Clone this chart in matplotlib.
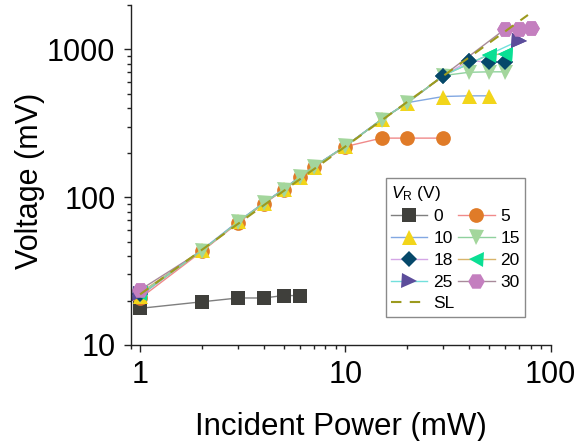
import matplotlib
matplotlib.use("Agg")
import matplotlib.pyplot as plt

plt.rcParams['font.family'] = ['Liberation Sans', 'DejaVu Sans']
plt.rcParams['mathtext.fontset'] = 'custom'
plt.rcParams['mathtext.rm'] = 'Liberation Sans'
plt.rcParams['mathtext.it'] = 'Liberation Sans:italic'

# ---- data ----
x_0 = [1, 2, 3, 4, 5, 6]
y_0 = [17.7, 19.6, 20.8, 20.8, 21.6, 21.6]

x_5 = [1, 2, 3, 4, 5, 6, 7, 10, 15, 20, 30]
y_5 = [20.7, 43, 67, 90, 112, 136, 159, 220, 251, 251, 251]

x_10 = [1, 2, 3, 4, 5, 6, 7, 10, 15, 20, 30, 40, 50]
y_10 = [21.5, 44, 68.5, 91.5, 113.5, 137.5, 161, 222, 336, 436, 480, 485, 485]

x_15 = [1, 2, 3, 4, 5, 6, 7, 10, 15, 20, 30, 40, 50, 60]
y_15 = [21.8, 43.5, 67.8, 91, 112.5, 137, 160, 221, 335, 435, 665, 700, 705, 705]

x_18 = [1, 2, 3, 4, 5, 6, 7, 10, 15, 20, 30, 40, 50, 60]
y_18 = [22.3, 43.5, 67.8, 91, 112.5, 137, 160, 221, 335, 435, 660, 840, 820, 820]

x_20 = [1, 2, 3, 4, 5, 6, 7, 10, 15, 20, 30, 50, 60]
y_20 = [22.5, 43.5, 67.8, 91, 112.5, 137, 160, 221, 335, 435, 665, 920, 930]

x_25 = [1, 2, 3, 4, 5, 6, 7, 10, 15, 20, 30, 70]
y_25 = [22.0, 43.5, 67.8, 91, 112.5, 137, 160, 221, 335, 435, 665, 1145]

x_30 = [1, 2, 3, 4, 5, 6, 7, 10, 15, 20, 30, 60, 70, 80]
y_30 = [23.6, 43.5, 67.8, 91, 112.5, 137, 160, 221, 335, 435, 665, 1373, 1373, 1390]

x_sl = [1, 77.5]
y_sl = [22.0, 1710]

labels = ['0', '5', '10', '15', '18', '20', '25', '30']
# visible (first-point + high-power) markers for the high-bias series
marked_18 = [0, 10, 11, 12, 13]
marked_20 = [0, 11, 12]
marked_25 = [0, 11]
marked_30 = [0, 11, 12, 13]

series = [
    (x_0, y_0, 's', '#3f3f3b', '#7f7f7f', 9.6, None),
    (x_5, y_5, 'o', '#e07b28', '#f08a8a', 10.6, None),
    (x_10, y_10, '^', '#f2d51a', '#82a8e2', 10.8, None),
    (x_15, y_15, 'v', '#a3d69c', '#8fd19e', 10.8, None),
    (x_18, y_18, 'D', '#06486a', '#d4a6e6', 8.0, marked_18),
    (x_20, y_20, '<', '#0adf94', '#d8b46a', 10.8, marked_20),
    (x_25, y_25, '>', '#5c4d9b', '#72e0dc', 10.8, marked_25),
    (x_30, y_30, 'H', '#c47fbf', '#a88a9a', 12.0, marked_30),
]

fig = plt.figure(figsize=(5.79, 4.41), dpi=100)
ax = fig.add_axes([0.2257, 0.2177, 0.7254, 0.7712])

handles = []
for i, ((xs, ys, mk, mc, lc, ms, me), lab) in enumerate(zip(series, labels)):
    zo = 2.0 if me is None else 1.9 + 0.01 * i
    h, = ax.plot(xs, ys, color=lc, lw=1.0, marker=mk, markersize=ms,
                 markerfacecolor=mc, markeredgecolor=mc, markeredgewidth=0,
                 markevery=me, label=lab, zorder=zo)
    handles.append(h)
    if me is not None:
        # markers of the high-bias series sit above the low-bias ones
        ax.plot(xs, ys, ls='none', marker=mk, markersize=ms,
                markerfacecolor=mc, markeredgewidth=0, markevery=me,
                zorder=2.05 + 0.01 * i)
sl, = ax.plot(x_sl, y_sl, color='#9c9a1e', lw=1.5, ls=(0, (5, 4)), label='SL',
              zorder=2.2)

ax.set_xscale('log')
ax.set_yscale('log')
ax.set_xlim(0.9, 100)
ax.set_ylim(10, 2000)
ax.set_xticks([1, 10, 100])
ax.set_xticklabels(['1', '10', '100'])
ax.set_yticks([10, 100, 1000])
ax.set_yticklabels(['10', '100', '1000'])

for s in ['top', 'right']:
    ax.spines[s].set_visible(False)
for s in ['left', 'bottom']:
    ax.spines[s].set_linewidth(1.0)
    ax.spines[s].set_color('#222222')
ax.tick_params(which='major', direction='out', length=5, width=1, labelsize=22,
               pad=6, colors='#222222', labelcolor='black')
ax.tick_params(which='minor', direction='out', length=3, width=1, colors='#222222')

ax.set_xlabel('Incident Power (mW)', fontsize=22.5, labelpad=16)
ax.set_ylabel('Voltage (mV)', fontsize=22)
ax.yaxis.set_label_coords(-0.205, 0.484)

order = [handles[0], handles[2], handles[4], handles[6], sl,
         handles[1], handles[3], handles[5], handles[7]]
leg = ax.legend(handles=order, labels=[h.get_label() for h in order], ncol=2,
                loc='lower left', bbox_to_anchor=(0.607, 0.0835),
                borderaxespad=0, fontsize=12.5, title='$V_\\mathrm{R}$ (V)',
                title_fontsize=12.5, alignment='left', frameon=True,
                fancybox=False, edgecolor='#8a8a8a', framealpha=1,
                handlelength=2.1, handletextpad=0.35, columnspacing=0.2,
                labelspacing=0.38, borderpad=0.3)
leg.get_frame().set_linewidth(1.0)
leg.set_zorder(5)

fig.savefig('out.png', dpi=100)
